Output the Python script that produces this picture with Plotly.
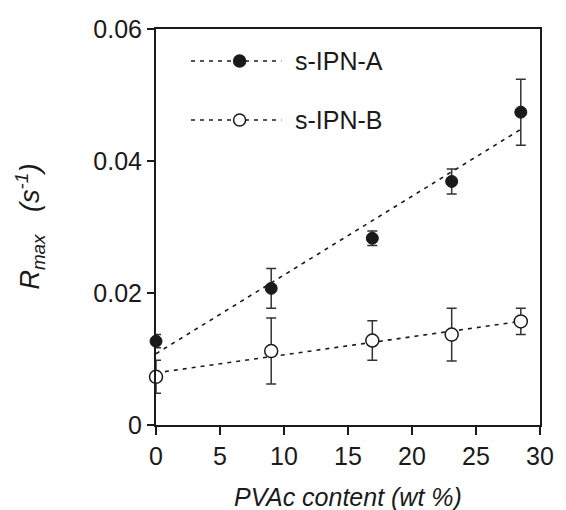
import plotly.graph_objects as go

# Data
x_pvac = [0, 9, 16.9, 23.1, 28.5]
rmax_A = [0.0127, 0.0207, 0.0283, 0.0369, 0.0474]
err_A = [0.0010, 0.0030, 0.0011, 0.0019, 0.0050]
rmax_B = [0.0073, 0.0112, 0.0128, 0.0137, 0.0157]
err_B = [0.0025, 0.0050, 0.0030, 0.0040, 0.0020]
fit_x = [0, 28.5]
fit_A = [0.0108, 0.0448]
fit_B = [0.0079, 0.0157]
series_names = ["s-IPN-A", "s-IPN-B"]
x_ticks = [0, 5, 10, 15, 20, 25, 30]
y_ticks = [0, 0.02, 0.04, 0.06]
y_ticktext = ["0", "0.02", "0.04", "0.06"]

FONT = "Liberation Sans, Arial, sans-serif"
INK = "#1a1a1a"
DASH = "4px,5px"
FS = 25

PL, PR, PT, PB = 154, 549, 29, 425  # target plot area (reference pixels)
ML, MR = 156, 12                      # figure margins (horizontal)

fig = go.Figure()

fig.add_trace(go.Scatter(x=fit_x, y=fit_A, mode="lines",
                         line=dict(color=INK, width=1.6, dash=DASH),
                         showlegend=False, hoverinfo="skip"))
fig.add_trace(go.Scatter(x=fit_x, y=fit_B, mode="lines",
                         line=dict(color=INK, width=1.6, dash=DASH),
                         showlegend=False, hoverinfo="skip"))

fig.add_trace(go.Scatter(
    x=x_pvac, y=rmax_A, mode="markers", name=series_names[0],
    marker=dict(symbol="circle", size=12, color=INK, line=dict(color=INK, width=1)),
    error_y=dict(type="data", array=err_A, visible=True, color="#333333", thickness=1.5, width=5),
    cliponaxis=False, showlegend=False))
fig.add_trace(go.Scatter(
    x=x_pvac, y=rmax_B, mode="markers", name=series_names[1],
    marker=dict(symbol="circle", size=13, color="white", line=dict(color=INK, width=1.5)),
    error_y=dict(type="data", array=err_B, visible=True, color="#333333", thickness=1.5, width=5),
    cliponaxis=False, showlegend=False))

# custom legend
def px_to_paper_x(px):
    return (px - PL) / float(PR - PL)

def py_to_paper_y(py):
    return (PB - py) / float(PB - PT)

shapes = []
annotations = []
legend_rows = [(61, INK), (120, "white")]
for (py, fill), name in zip(legend_rows, series_names):
    yp = py_to_paper_y(py)
    shapes.append(dict(type="line", xref="paper", yref="paper",
                       x0=px_to_paper_x(190), x1=px_to_paper_x(283), y0=yp, y1=yp,
                       line=dict(color=INK, width=1.6, dash=DASH), layer="above"))
    shapes.append(dict(type="circle", xref="paper", yref="paper",
                       xsizemode="pixel", ysizemode="pixel",
                       xanchor=px_to_paper_x(240), yanchor=yp,
                       x0=-6, x1=6, y0=-6, y1=6,
                       fillcolor=fill, line=dict(color=INK, width=1.5), layer="above"))
    annotations.append(dict(xref="paper", yref="paper", x=px_to_paper_x(295), y=yp,
                            xanchor="left", yanchor="middle", showarrow=False,
                            text=name, font=dict(family=FONT, size=FS, color=INK)))

annotations.append(dict(xref="paper", yref="paper", x=0.5, y=py_to_paper_y(497),
                        xanchor="center", yanchor="middle", showarrow=False,
                        text="<i>PVAc content (wt %)</i>",
                        font=dict(family=FONT, size=FS, color=INK)))
annotations.append(dict(xref="paper", yref="paper", x=px_to_paper_x(24), y=0.5,
                        xanchor="center", yanchor="middle", showarrow=False, textangle=-90,
                        text="<i>R</i><sub><i>max</i></sub>   <i>(s<sup>-1</sup>)</i>",
                        font=dict(family=FONT, size=27, color=INK)))

fig.update_layout(
    width=566, height=510,
    margin=dict(l=ML, r=MR, t=PT, b=510 - PB),
    paper_bgcolor="white", plot_bgcolor="white",
    shapes=shapes, annotations=annotations,
    font=dict(family=FONT, size=FS, color=INK),
)
fig.update_xaxes(range=[0, 30], tickvals=x_ticks, ticks="outside", ticklen=8, tickwidth=1.5,
                 tickcolor=INK, showline=True, linecolor=INK, linewidth=2, mirror=True,
                 showgrid=False, zeroline=False, ticklabeloverflow="allow",
                 tickfont=dict(family=FONT, size=FS, color=INK))
fig.update_yaxes(range=[0, 0.06], tickvals=y_ticks, ticktext=y_ticktext, ticks="outside",
                 ticklen=7, tickwidth=1.5, tickcolor=INK, showline=True, linecolor=INK,
                 linewidth=2, mirror=True, showgrid=False, zeroline=False,
                 tickfont=dict(family=FONT, size=FS, color=INK))

fig.write_html("out.html", config={"displayModeBar": False},
               post_script="document.body.style.margin='0';document.body.style.overflow='hidden';")
